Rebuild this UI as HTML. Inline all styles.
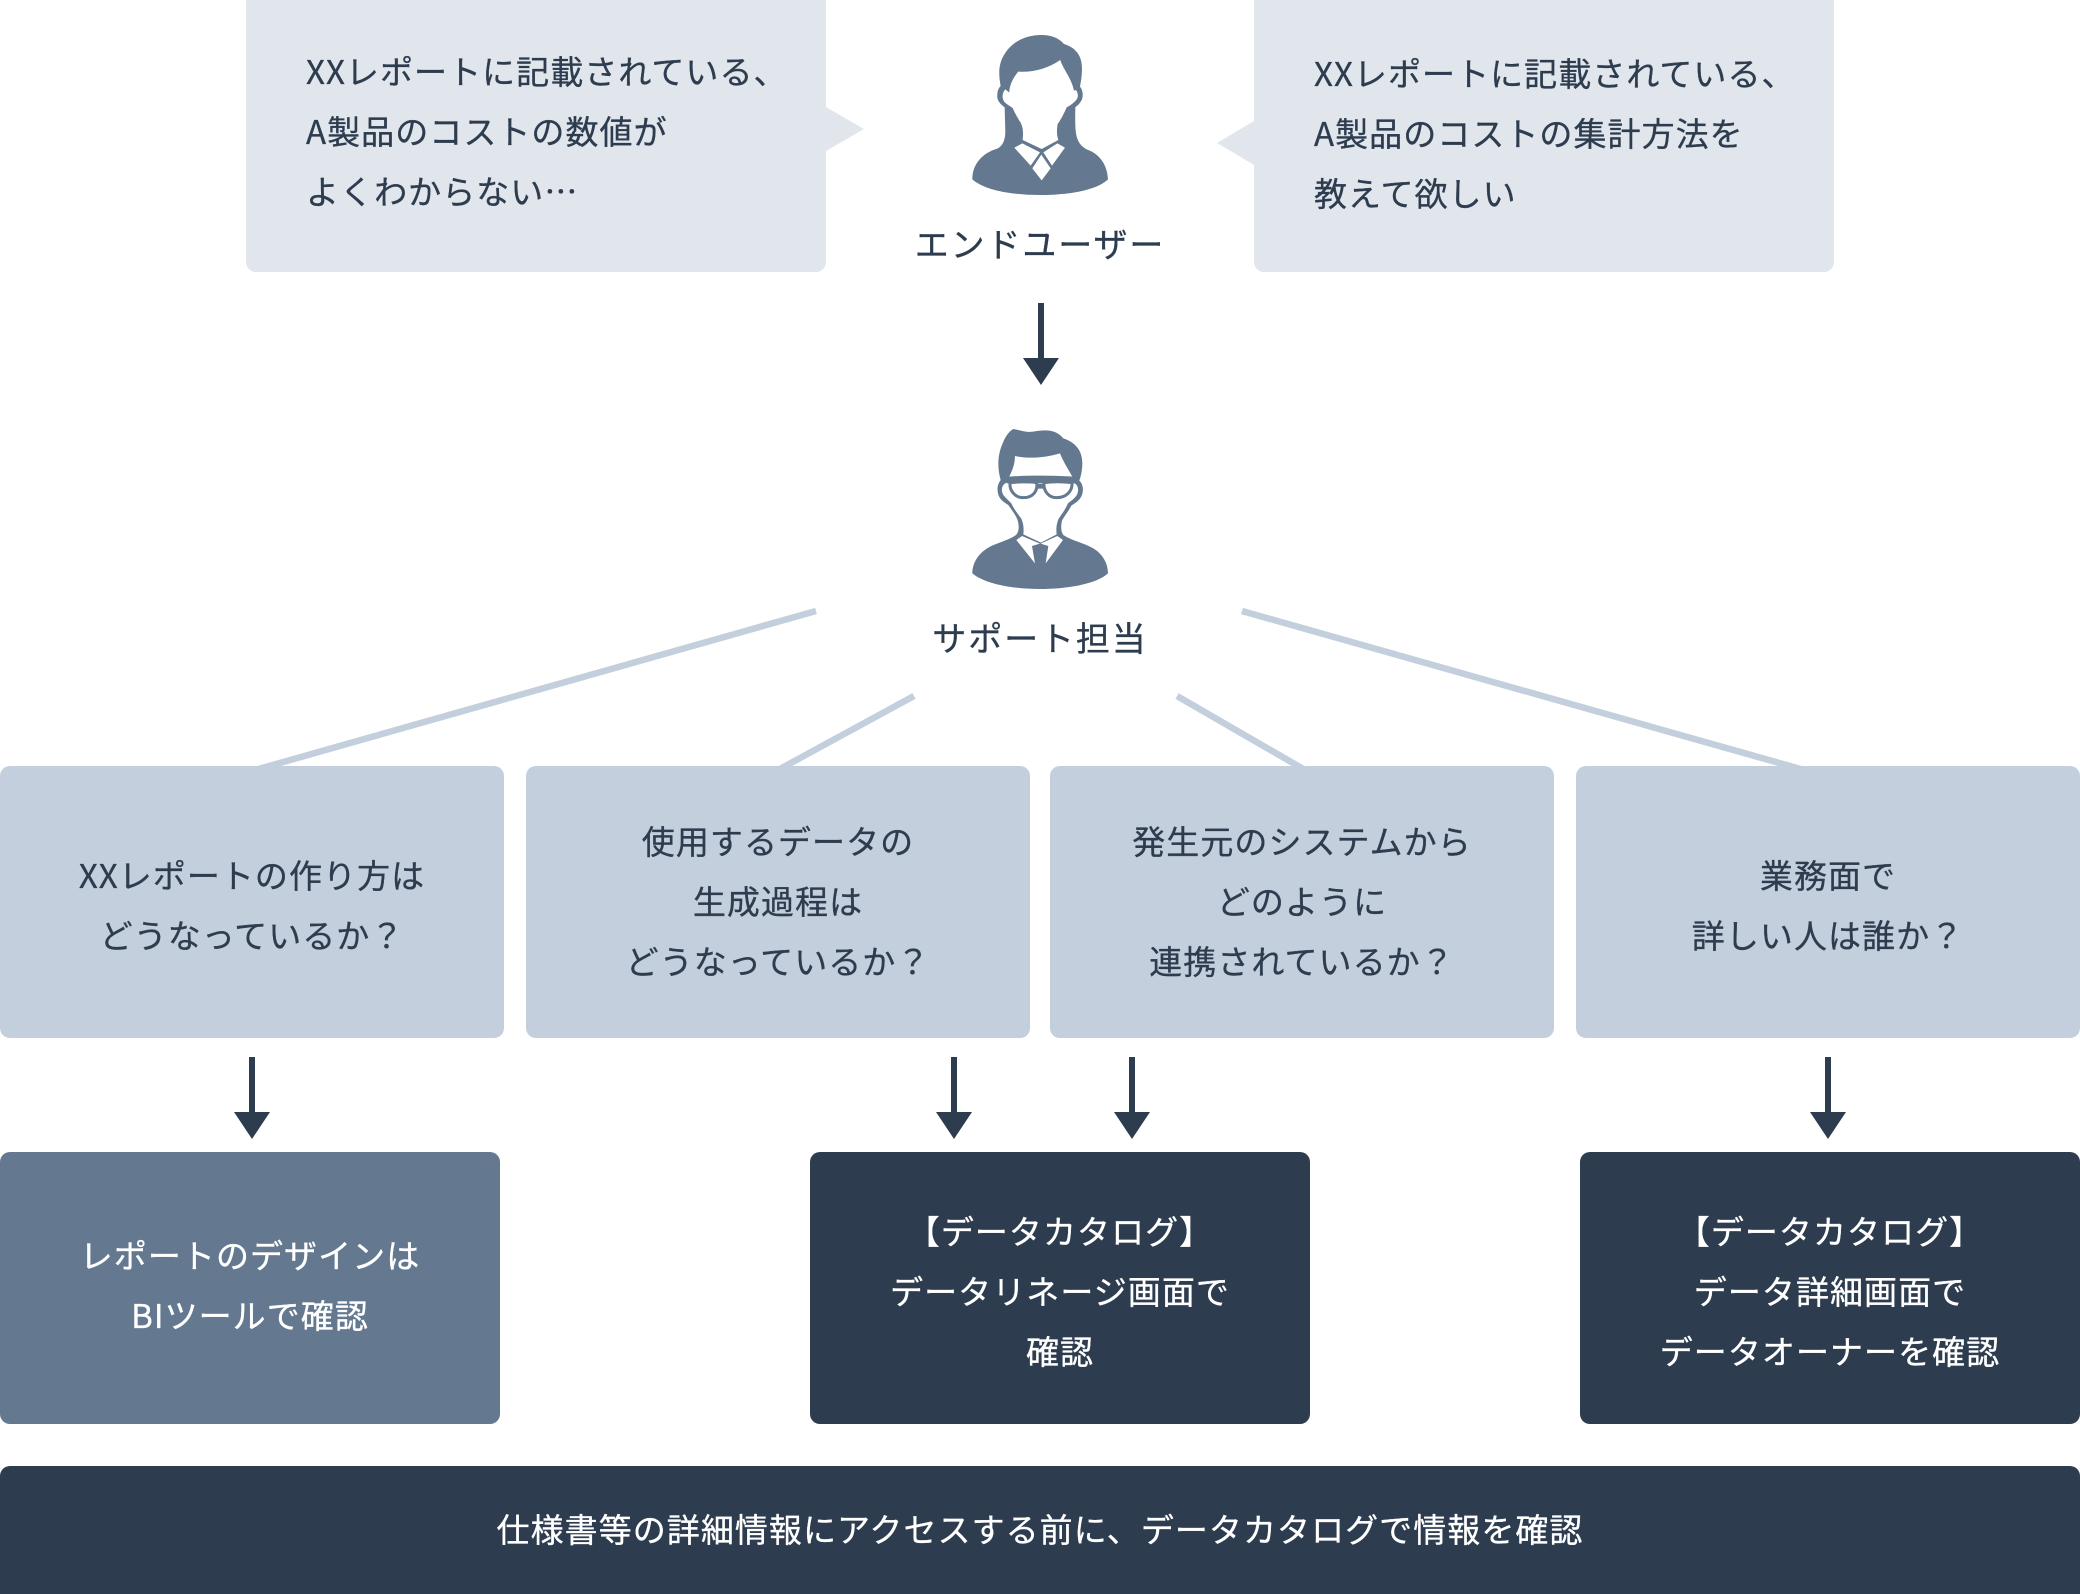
<!DOCTYPE html>
<html lang="ja"><head><meta charset="utf-8"><style>
html,body{margin:0;padding:0;background:#fff}
#p{position:relative;width:2080px;height:1594px;overflow:hidden;font-family:"Liberation Sans","Noto Sans CJK JP",sans-serif}
svg{position:absolute;left:0;top:0}
.t{position:absolute;font-family:"Noto Sans CJK JP","Liberation Sans",sans-serif;font-size:33px;line-height:60px;letter-spacing:1.05px;color:#2d3c4e;white-space:nowrap;-webkit-text-stroke:.3px currentColor}
.c{transform:translateX(-50%);text-align:center}
.l{font-size:34px;letter-spacing:1.9px}
.w{color:#fff}
</style></head><body><div id="p">
<svg width="2080" height="1594" viewBox="0 0 2080 1594">
<g fill="#e1e6ed">
<path d="M246 0H826V107L864 129L826 151V262a10 10 0 0 1-10 10H256a10 10 0 0 1-10-10Z"/>
<path d="M1254 0H1834V262a10 10 0 0 1-10 10H1264a10 10 0 0 1-10-10V165L1217 143L1254 121Z"/>
</g>
<g stroke="#c3cfdc" stroke-width="6.5" fill="none">
<line x1="816" y1="611" x2="255" y2="770"/>
<line x1="914" y1="696" x2="778" y2="770"/>
<line x1="1177" y1="696" x2="1305" y2="770"/>
<line x1="1242" y1="611" x2="1804" y2="770"/>
</g>
<g fill="#c3cfdc">
<rect x="0" y="766" width="504" height="272" rx="10"/>
<rect x="526" y="766" width="504" height="272" rx="10"/>
<rect x="1050" y="766" width="504" height="272" rx="10"/>
<rect x="1576" y="766" width="504" height="272" rx="10"/>
</g>
<rect x="0" y="1152" width="500" height="272" rx="10" fill="#64798f"/>
<g fill="#2d3c4e">
<rect x="810" y="1152" width="500" height="272" rx="10"/>
<rect x="1580" y="1152" width="500" height="272" rx="10"/>
<path d="M10 1466H2070a10 10 0 0 1 10 10V1594H0V1476a10 10 0 0 1 10-10Z"/>
<path d="M1038 303h6v55h15l-18 27l-18-27h15Z"/>
<path d="M249 1057h6v55h15l-18 27l-18-27h15Z"/>
<path d="M951 1057h6v55h15l-18 27l-18-27h15Z"/>
<path d="M1129 1057h6v55h15l-18 27l-18-27h15Z"/>
<path d="M1825 1057h6v55h15l-18 27l-18-27h15Z"/>
</g>
<g transform="translate(880 0) scale(.3333)">
<path fill="#64798f" d="M485 105C515 105 538 115 552 132C585 142 606 165 606 205C606 225 603 245 600 260C610 272 612 295 600 308C597 314 590 318 586 322C586 350 584 385 590 410C595 428 605 440 620 448C655 460 682 490 684 538C650 572 560 585 480 585C400 585 315 572 277 538C277 490 310 458 352 446C368 438 376 420 376 395L374 322C360 312 350 300 352 285C352 272 356 264 362 258C355 220 355 190 375 160C400 122 440 105 485 105Z"/>
<path fill="#fff" d="M415 215C460 218 505 205 541 180C548 205 575 235 582 272L588 270C594 278 596 290 590 298C584 306 575 314 560 322C552 340 545 355 533 372C530 390 530 405 535 420L485 447L428 420C430 400 430 385 422 368C412 352 405 340 398 324C388 316 378 312 372 304C365 292 367 278 376 268L388 278C388 255 400 232 415 215Z"/>
<path fill="#fff" d="M403 443L427 430L480 457L452 497ZM555 443L532 430L490 457L516 497ZM484 464L512 505L485 541L457 505Z"/>
</g>
<g transform="translate(880 400) scale(.3333)">
<path fill="#64798f" d="M400 87C420 90 435 98 460 95C490 90 525 85 550 115C590 128 607 155 607 190C607 210 603 228 598 242C612 255 612 280 600 296C592 306 582 312 574 317C565 335 555 345 546 362C542 380 543 395 550 405C575 422 610 428 640 445C668 462 684 490 684 520C650 552 560 567 480 567C400 567 315 552 277 520C277 490 295 460 325 443C350 428 385 422 408 405C418 395 418 375 412 358C405 342 395 330 385 315C370 305 358 298 354 280C350 262 355 250 362 240C352 205 352 165 368 130C378 105 390 92 400 87Z"/>
<path fill="#fff" d="M405 168C450 178 500 172 540 160C552 190 568 212 578 232H387C395 215 405 195 405 168Z"/>
<path fill="#fff" d="M380 248C370 252 364 262 366 274C368 288 382 296 394 310C402 328 414 342 424 356C431 372 432 388 430 403L483 428L530 403C528 388 529 372 536 356C546 342 556 328 564 310C578 298 592 290 594 274C596 262 590 252 580 248Z"/>
<path fill="#64798f" d="M385 230C440 226 520 226 578 230L584 250H380Z"/>
<path fill="#64798f" d="M468 252H494V266H468Z"/>
<path fill="#fff" stroke="#64798f" stroke-width="9" d="M390 248C415 245 450 245 470 248C474 272 460 293 430 293C405 293 388 272 390 248ZM492 248C515 245 550 245 576 248C578 272 560 293 530 293C505 293 490 272 492 248Z"/>
<path fill="#fff" d="M409 420L426 408L480 431L456 438L465 490ZM549 420L532 408L482 431L505 438L497 490Z"/>
</g>
</svg>

<div class="t" style="left:306px;top:40px">XXレポートに記載されている、<br>A製品のコストの数値が<br>よくわからない…</div>
<div class="t" style="left:1314px;top:42px">XXレポートに記載されている、<br>A製品のコストの集計方法を<br>教えて欲しい</div>
<div class="t c l" style="left:1040px;top:213px">エンドユーザー</div>
<div class="t c l" style="left:1040px;top:607px">サポート担当</div>
<div class="t c" style="left:252px;top:844px">XXレポートの作り方は<br>どうなっているか？</div>
<div class="t c" style="left:778px;top:810px">使用するデータの<br>生成過程は<br>どうなっているか？</div>
<div class="t c" style="left:1302px;top:810px">発生元のシステムから<br>どのように<br>連携されているか？</div>
<div class="t c" style="left:1828px;top:844px">業務面で<br>詳しい人は誰か？</div>
<div class="t c w" style="left:250px;top:1224px">レポートのデザインは<br>BIツールで確認</div>
<div class="t c w" style="left:1060px;top:1200px">【データカタログ】<br>データリネージ画面で<br>確認</div>
<div class="t c w" style="left:1830px;top:1200px">【データカタログ】<br>データ詳細画面で<br>データオーナーを確認</div>
<div class="t c w" style="left:1040px;top:1498px">仕様書等の詳細情報にアクセスする前に、データカタログで情報を確認</div>
</div></body></html>
